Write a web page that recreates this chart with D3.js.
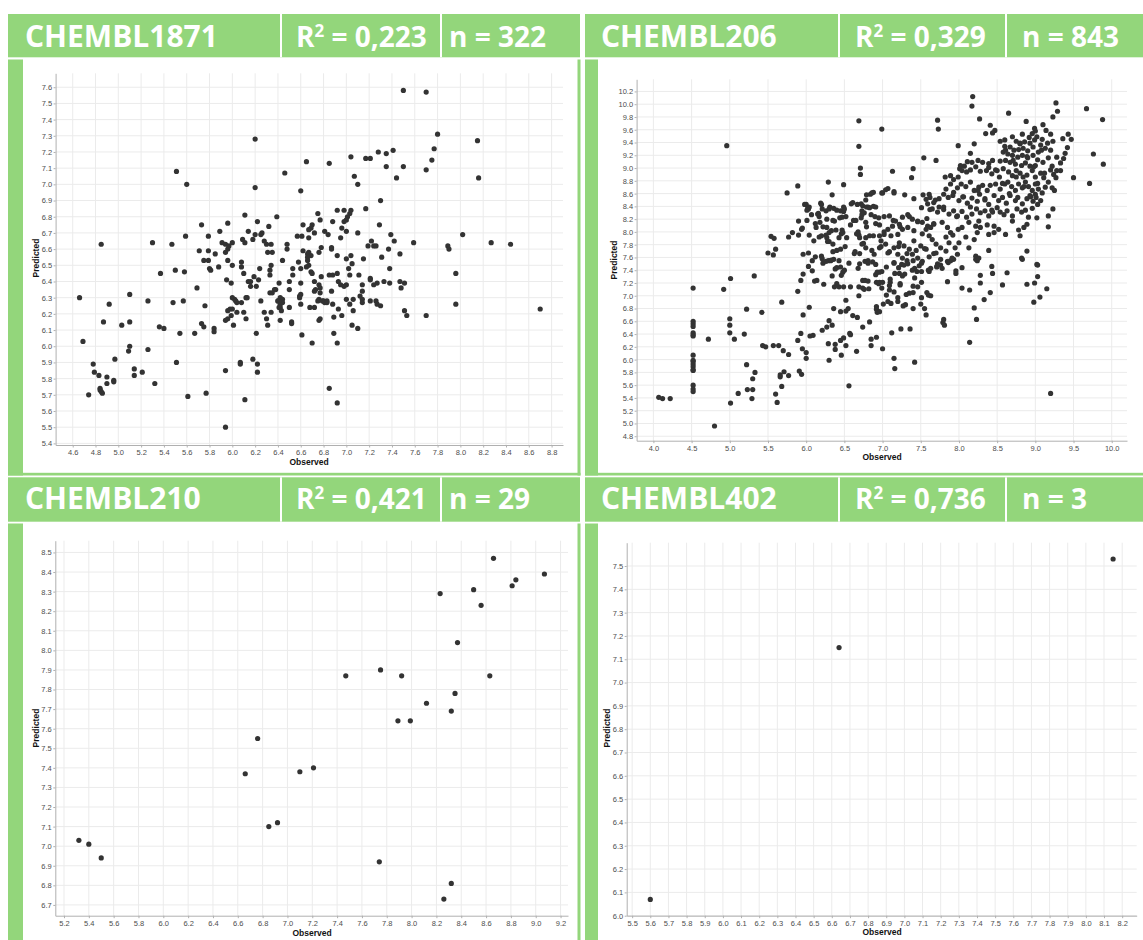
<!DOCTYPE html>
<html>
<head>
<meta charset="utf-8">
<script src="https://cdn.jsdelivr.net/npm/d3@7"></script>
<style>
  body { margin: 0; background: #fff; }
  svg { display: block; }
</style>
</head>
<body>
<svg id="chart"></svg>
<script>

// ---- data ----
const targets = ['CHEMBL1871', 'CHEMBL206', 'CHEMBL210', 'CHEMBL402']
const r2Values = ['0,223', '0,329', '0,421', '0,736']
const nValues = ['322', '843', '29', '3']

// [observed, predicted]
const pts1871 = [
  [7.50,7.58],[7.70,7.57],[7.80,7.31],[8.15,7.27],[6.20,7.28],[7.77,7.22],[7.41,7.21],[7.28,7.20],[7.35,7.19],[7.04,7.17],
  [7.17,7.16],[7.21,7.16],[7.75,7.15],[6.65,7.14],[6.85,7.13],[7.35,7.11],[7.50,7.11],[7.70,7.09],[5.51,7.08],[6.46,7.07],
  [7.07,7.05],[7.44,7.04],[8.16,7.04],[7.10,7.00],[5.60,7.00],[6.20,6.98],[6.60,6.96],[7.30,6.90],[7.17,6.85],[6.92,6.84],
  [6.98,6.84],[7.04,6.84],[7.03,6.82],[6.75,6.82],[6.11,6.81],[6.39,6.80],[7.01,6.80],[6.77,6.78],[7.00,6.78],[6.88,6.77],
  [6.98,6.77],[5.96,6.76],[6.22,6.77],[7.29,6.75],[5.73,6.75],[6.62,6.75],[6.70,6.75],[6.32,6.74],[6.69,6.73],[6.96,6.73],
  [6.67,6.72],[6.72,6.70],[5.89,6.71],[6.81,6.71],[7.00,6.71],[6.14,6.71],[6.26,6.70],[7.10,6.70],[7.39,6.69],[8.02,6.69],
  [6.20,6.69],[6.84,6.69],[6.25,6.69],[5.59,6.68],[5.79,6.68],[6.57,6.68],[6.61,6.68],[6.67,6.67],[6.18,6.66],[6.95,6.67],
  [6.09,6.66],[6.11,6.64],[6.28,6.65],[7.42,6.65],[7.22,6.65],[7.59,6.64],[8.27,6.64],[5.30,6.64],[5.47,6.63],[4.85,6.63],
  [8.44,6.63],[5.91,6.64],[6.00,6.64],[6.30,6.63],[6.34,6.63],[6.48,6.63],[5.94,6.63],[5.97,6.62],[7.19,6.62],[7.24,6.62],
  [7.26,6.62],[7.89,6.62],[7.90,6.60],[6.78,6.61],[6.87,6.61],[5.96,6.60],[6.48,6.60],[6.87,6.60],[7.37,6.60],[5.71,6.59],
  [5.79,6.59],[6.62,6.59],[5.94,6.58],[6.31,6.58],[6.67,6.58],[5.85,6.57],[6.35,6.58],[6.66,6.57],[6.76,6.58],[6.92,6.56],
  [7.04,6.56],[7.47,6.57],[6.69,6.56],[6.66,6.55],[7.31,6.55],[7.00,6.54],[7.15,6.54],[5.75,6.53],[5.79,6.53],[5.96,6.53],
  [6.66,6.53],[6.44,6.53],[6.58,6.52],[6.08,6.52],[7.05,6.51],[6.00,6.50],[6.34,6.50],[5.88,6.49],[6.08,6.49],[6.67,6.50],
  [6.65,6.49],[6.24,6.48],[5.80,6.48],[6.53,6.48],[6.60,6.48],[7.02,6.48],[7.38,6.48],[6.33,6.47],[5.50,6.47],[5.81,6.47],
  [6.69,6.46],[5.58,6.46],[6.33,6.44],[6.70,6.45],[5.37,6.45],[6.10,6.45],[7.96,6.45],[6.53,6.44],[6.85,6.44],[6.88,6.44],
  [7.03,6.44],[7.11,6.44],[6.19,6.43],[6.78,6.43],[6.92,6.45],[7.21,6.42],[5.95,6.41],[6.23,6.41],[6.14,6.40],[7.21,6.41],
  [6.16,6.40],[6.50,6.40],[7.33,6.40],[6.72,6.40],[6.41,6.39],[7.38,6.39],[7.47,6.40],[7.51,6.39],[7.27,6.39],[6.60,6.39],
  [6.93,6.40],[5.99,6.39],[7.14,6.38],[6.95,6.38],[7.00,6.38],[7.24,6.38],[6.76,6.38],[6.77,6.36],[6.98,6.37],[6.21,6.37],
  [6.16,6.37],[5.69,6.36],[7.48,6.36],[6.37,6.35],[6.50,6.35],[6.73,6.35],[6.38,6.35],[6.87,6.34],[7.14,6.34],[6.72,6.34],
  [6.33,6.33],[6.35,6.33],[6.77,6.33],[5.10,6.32],[4.66,6.30],[6.60,6.32],[6.59,6.31],[7.12,6.31],[6.00,6.30],[6.12,6.30],
  [6.42,6.30],[6.59,6.30],[6.02,6.29],[6.13,6.30],[6.40,6.28],[6.44,6.29],[6.76,6.29],[7.00,6.29],[7.06,6.29],[7.14,6.29],
  [6.03,6.28],[6.75,6.28],[6.80,6.28],[6.83,6.28],[7.21,6.28],[5.26,6.28],[5.57,6.28],[6.25,6.28],[6.79,6.28],[7.26,6.28],
  [6.81,6.27],[6.40,6.28],[6.44,6.27],[5.48,6.27],[6.04,6.27],[6.08,6.27],[6.83,6.27],[7.03,6.26],[7.14,6.27],[4.92,6.26],
  [6.88,6.26],[6.60,6.26],[7.27,6.26],[7.96,6.26],[6.42,6.26],[7.30,6.25],[5.76,6.25],[6.41,6.24],[6.50,6.24],[6.68,6.24],
  [6.72,6.24],[6.42,6.24],[5.98,6.23],[8.70,6.23],[6.00,6.23],[6.93,6.23],[7.51,6.22],[6.43,6.22],[6.10,6.21],[5.96,6.22],
  [6.28,6.21],[6.34,6.21],[7.06,6.22],[6.04,6.21],[6.96,6.19],[7.53,6.19],[7.70,6.19],[5.99,6.19],[5.96,6.17],[6.89,6.18],
  [6.30,6.17],[6.12,6.17],[6.77,6.17],[6.76,6.16],[5.94,6.16],[6.42,6.16],[4.87,6.15],[5.10,6.15],[6.52,6.15],[6.52,6.14],
  [5.73,6.14],[6.31,6.13],[7.05,6.13],[5.03,6.13],[6.01,6.13],[5.75,6.12],[5.36,6.12],[5.40,6.11],[7.10,6.11],[5.84,6.11],
  [5.84,6.09],[5.54,6.08],[5.67,6.08],[6.21,6.08],[6.89,6.08],[6.61,6.07],[6.70,6.02],[6.92,6.02],[4.69,6.03],[5.10,6.00],
  [5.09,5.97],[5.26,5.98],[4.97,5.92],[6.18,5.92],[5.51,5.90],[6.07,5.90],[6.07,5.89],[6.22,5.89],[4.78,5.89],[5.94,5.85],
  [5.14,5.86],[4.79,5.84],[5.21,5.84],[6.22,5.84],[4.83,5.82],[5.14,5.82],[4.90,5.81],[4.96,5.79],[4.96,5.78],[4.90,5.77],
  [5.32,5.77],[4.84,5.74],[6.85,5.74],[4.84,5.73],[4.85,5.72],[4.86,5.71],[4.74,5.70],[5.77,5.71],[5.61,5.69],[6.11,5.67],
  [6.92,5.65],[5.94,5.50]
]

const pts206 = [
  // low / left region
  [4.07,5.41],[4.12,5.39],[4.22,5.39],[4.80,4.96],[4.52,7.12],[4.52,6.60],[4.52,6.56],[4.52,6.52],[4.52,6.42],[4.52,6.39],
  [4.52,6.37],[4.52,6.07],[4.52,5.99],[4.52,5.97],[4.52,5.93],[4.52,5.89],[4.52,5.84],[4.52,5.83],[4.52,5.60],[4.52,5.54],
  [4.52,5.50],[4.72,6.32],[4.92,7.10],[5.01,7.27],[5.00,6.64],[5.00,6.54],[5.00,6.42],[5.06,6.32],[5.01,5.32],[5.11,5.47],
  [5.19,6.40],[5.22,6.79],[5.22,5.92],[5.32,7.31],[5.33,5.80],[5.30,5.70],[5.23,5.53],[5.30,5.53],[5.29,5.39],[5.42,6.74],
  [5.43,6.22],[5.47,6.20],[5.57,6.22],[5.64,6.22],[5.70,6.14],[5.77,6.08],[5.68,6.90],[5.60,5.46],[5.62,5.33],[5.68,5.58],
  [5.66,5.73],[5.66,5.76],[5.71,5.81],[5.77,5.75],[5.91,5.82],[5.94,5.77],[5.89,6.30],[5.93,6.41],[5.95,6.17],[6.00,6.11],
  [6.00,6.02],[5.96,6.70],[5.89,7.07],[5.93,7.24],[5.96,7.34],[6.03,7.46],[6.08,7.55],[6.04,6.82],[6.05,6.37],[6.09,6.38],
  [6.08,7.39],[6.11,7.23],[6.14,7.24],[6.23,7.18],[6.21,6.46],[6.27,6.51],[6.30,6.61],[6.34,6.54],[6.30,5.99],[6.29,6.25],
  [6.38,6.24],[6.38,6.16],[6.46,6.07],[6.45,6.30],[6.49,6.34],[6.52,6.22],[6.57,6.41],[6.58,6.39],[6.56,5.59],[6.66,6.13],
  [6.74,6.51],[6.85,6.32],[6.85,6.22],[6.92,6.35],[7.00,6.17],[6.36,6.80],[6.45,6.75],[6.52,6.76],[6.55,6.80],[6.52,6.93],
  [6.61,6.69],[6.67,6.66],[6.83,6.59],[6.69,7.00],[6.37,7.14],[6.43,7.14],[6.49,7.14],[6.34,7.31],[6.38,7.42],[6.40,7.44],
  [6.46,7.32],[6.48,7.37],[6.50,7.40],[6.29,7.55],[6.32,7.55],[6.36,7.57],[6.43,7.55],[6.70,7.50],[6.77,7.54],[6.81,7.55],
  [6.87,7.53],[6.91,7.49],[6.69,7.14],[6.74,7.12],[6.76,7.10],[6.82,7.11],[6.74,7.24],[6.81,7.23],[6.91,7.33],[6.96,7.37],
  [6.99,7.38],[6.92,7.21],[6.96,7.21],[7.00,7.21],[6.99,7.12],[6.92,6.83],[6.92,6.79],[6.93,6.74],[6.96,6.75],[7.01,6.87],
  // low / right region
  [9.20,5.47],[8.14,6.27],[7.15,6.02],[7.16,5.86],[7.42,5.96],[7.12,6.42],[7.24,6.48],[7.36,6.48],[7.80,6.63],[7.79,6.58],
  [7.81,6.54],[8.20,6.81],[8.23,6.63],[8.33,6.94],[8.41,7.05],[8.04,7.12],[8.14,7.09],[8.28,7.20],[8.28,7.32],[8.43,7.46],
  [8.44,7.35],[8.57,7.17],[8.63,7.36],[8.89,7.18],[8.99,7.20],[9.03,7.30],[9.03,7.48],[8.98,6.90],[9.06,6.98],[9.15,7.11],
  [8.82,7.59],[8.04,7.44],[7.96,7.39],[7.96,7.35],[7.85,7.22],[7.76,7.48],[7.72,7.50],[7.71,7.46],[7.63,7.43],[7.61,7.38],
  [7.58,7.05],[7.63,7.00],[7.55,6.80],[7.57,6.70],[7.50,6.87],[7.51,6.97],[7.51,7.21],[7.40,6.80],[7.40,7.05],[7.40,7.15],
  [7.42,7.28],[7.42,7.43],[7.48,7.47],[7.45,7.38],[7.30,6.86],[7.27,6.84],[7.20,6.97],[7.20,6.91],[7.31,7.02],[7.23,7.17],
  [7.22,7.35],[7.29,7.34],[7.26,7.31],[7.25,7.49],[7.32,7.55],[7.40,7.55],[7.15,7.51],[7.09,7.16],[7.15,7.06],[7.05,7.01],
  [7.07,6.91],[7.11,6.88],[7.21,7.44],[7.10,7.21],[7.10,7.26],[7.51,7.38],[7.78,7.43],[7.85,7.54],[7.89,7.55],[7.93,7.57],
  [8.22,7.57],[8.24,7.55],
  // middle band
  [6.40,7.19],[6.58,7.14],[6.77,7.24],[6.95,7.19],[7.09,7.09],[7.23,7.19],[7.35,7.04],[7.46,7.14],[7.60,7.01],
  [6.12,7.61],[6.22,7.51],[6.33,7.56],[6.45,7.45],[6.56,7.51],[6.68,7.43],[6.81,7.51],[6.93,7.37],[7.05,7.45],[7.16,7.35],
  [7.28,7.48],[7.39,7.40],[7.51,7.51],[7.60,7.40],[7.71,7.45],
  [6.17,7.92],[6.28,7.85],[6.40,7.71],[6.51,7.77],[6.63,7.66],[6.75,7.82],[6.86,7.71],[6.98,7.77],[7.09,7.69],[7.21,7.77],
  [7.32,7.66],[7.44,7.71],[7.55,7.74],[7.67,7.66],
  [6.12,8.13],[6.22,8.08],[6.35,8.18],[6.47,8.03],[6.58,8.11],[6.68,8.00],[6.79,8.08],[6.91,8.13],[7.02,8.00],[7.14,8.18],
  [7.23,8.08],[7.35,8.24],[7.46,8.16],[7.58,8.21],[7.67,8.13],
  [6.00,8.43],[6.04,8.39],[6.19,8.45],[6.16,8.29],[6.31,8.39],[6.40,8.34],[6.49,8.39],[6.61,8.46],[6.72,8.44],[6.81,8.39],
  [6.84,8.59],[6.88,8.62],[7.00,8.61],[7.07,8.68],[7.15,8.63],[7.29,8.58],[7.41,8.52],[7.53,8.58],[7.61,8.59],[7.69,8.50],
  [7.74,8.39],[7.62,8.35],
  // high / left region
  [4.96,9.35],[5.75,8.61],[5.89,8.72],[6.29,8.78],[6.49,8.74],[6.34,8.58],[6.69,9.74],[6.99,9.61],[6.69,9.34],[6.71,9.00],
  [6.71,8.90],[6.79,8.58],[6.86,8.61],[6.99,8.61],[6.78,8.50],[5.98,8.43],[6.02,8.39],[6.03,8.36],[6.01,8.34],[6.20,8.43],
  [6.21,8.36],[6.07,8.27],[6.15,8.28],[6.17,8.24],[6.26,8.33],[6.30,8.36],[6.36,8.37],[6.45,8.33],[6.49,8.32],[6.50,8.36],
  [6.52,8.24],[6.44,8.22],[6.47,8.23],[6.59,8.44],[6.67,8.43],[6.74,8.41],[6.79,8.39],[6.83,8.38],[6.88,8.40],[6.91,8.39],
  [6.73,8.33],[6.76,8.30],[6.73,8.27],[6.72,8.22],[6.85,8.27],[6.90,8.24],[6.95,8.22],[6.62,8.18],[6.65,8.18],[6.78,8.15],
  [6.96,8.11],[5.90,8.17],[5.94,8.04],[6.01,8.18],[6.13,8.07],[6.18,8.15],[6.27,8.07],[6.33,8.02],[6.39,8.03],[6.27,8.20],
  [6.37,8.17],[5.54,7.93],[5.58,7.90],[5.77,7.92],[5.82,7.99],[5.90,7.95],[5.95,8.06],[6.04,7.95],[6.10,7.86],[6.20,7.94],
  [6.26,7.95],[6.30,7.99],[6.27,7.91],[6.30,7.85],[6.35,7.81],[6.43,7.91],[6.46,7.97],[6.48,7.99],[6.53,7.91],[6.66,7.97],
  [6.69,7.95],[6.70,7.91],[6.78,7.91],[6.83,7.94],[6.88,7.94],[6.96,7.94],[6.64,7.69],[6.70,7.66],[6.78,7.75],[6.89,7.65],
  [6.96,7.75],[6.73,7.81],[5.50,7.67],[5.57,7.64],[5.60,7.73],[5.96,7.65],[6.03,7.67],[6.20,7.62],[6.21,7.58],[6.26,7.54],
  [6.35,7.69],[6.45,7.73],
  // high / right region
  [8.18,10.12],[8.17,9.97],[8.27,9.77],[8.65,9.86],[7.72,9.75],[7.73,9.61],[9.27,10.02],[9.29,9.89],[9.23,9.80],[9.67,9.93],
  [9.88,9.76],[9.76,9.22],[9.89,9.06],[9.71,8.76],[9.50,8.85],[8.88,9.73],[8.41,9.67],[8.47,9.59],[8.44,9.55],[8.35,9.54],
  [7.99,9.35],[8.20,9.38],[8.15,9.23],[7.54,9.16],[7.70,9.12],[7.13,8.95],[7.40,8.99],[7.38,8.85],[7.04,8.66],[7.15,8.61],
  [9.10,9.68],[8.99,9.62],[9.00,9.58],[9.14,9.59],[9.20,9.53],[8.96,9.54],[8.83,9.53],[8.70,9.49],[9.43,9.53],[9.36,9.46],
  [9.47,9.45],[9.02,9.49],[9.09,9.45],[9.23,9.42],[8.92,9.48],[8.60,9.44],[8.54,9.42],
  [8.75,9.42],[8.80,9.38],[8.86,9.41],[8.93,9.39],[8.99,9.44],[9.07,9.36],[9.16,9.39],[9.13,9.31],[9.20,9.28],[9.42,9.32],
  [9.39,9.23],[8.60,9.34],[8.67,9.33],[8.72,9.28],[8.78,9.29],[8.84,9.31],[8.90,9.27],[8.97,9.33],[9.04,9.25],[8.58,9.25],
  [8.64,9.22],
  [8.70,9.20],[8.77,9.17],[8.83,9.20],[8.90,9.16],[8.97,9.20],[9.03,9.13],[9.10,9.09],[9.17,9.16],[9.28,9.17],[9.33,9.08],
  [9.37,9.15],[8.61,9.12],[8.67,9.09],[8.54,9.11],[8.44,9.12],[8.39,9.07],[8.31,9.09],[8.25,9.12],[8.17,9.09],[8.11,9.10],
  [8.07,9.03],[8.02,9.04],[8.74,9.06],[8.82,9.04],[8.87,9.08],[8.93,9.03],[9.00,9.04],[9.22,9.03],
  [8.01,8.99],[8.04,8.96],[8.10,8.94],[8.15,8.97],[8.22,9.02],[8.28,8.95],[8.36,8.96],[8.39,9.01],[8.43,8.91],[8.50,8.96],
  [8.53,8.86],[8.58,8.99],[8.65,8.94],[8.70,8.88],[8.75,8.96],[8.80,8.92],[8.84,8.86],[8.89,8.89],[8.96,8.96],[9.00,8.86],
  [9.07,8.92],[9.11,8.85],[9.20,8.97],[9.24,8.90],[9.28,8.96],[9.33,8.96],[9.27,8.85],[7.82,8.86],[7.89,8.88],[7.93,8.82],
  [7.99,8.86],
  [8.03,8.75],[8.09,8.71],[8.15,8.78],[8.20,8.65],[8.26,8.70],[8.31,8.73],[8.37,8.65],[8.41,8.73],[8.48,8.75],[8.54,8.67],
  [8.60,8.75],[8.64,8.78],[8.69,8.71],[8.74,8.65],[8.78,8.75],[8.83,8.69],[8.87,8.78],[8.91,8.71],[8.96,8.65],[9.00,8.75],
  [9.04,8.67],[9.09,8.61],[9.13,8.70],[9.17,8.78],[9.22,8.69],[9.25,8.65],[7.83,8.67],[7.89,8.75],[7.93,8.62],[7.98,8.69],
  [7.80,8.59],
  [7.86,8.54],[7.92,8.57],[8.00,8.49],[8.05,8.55],[8.11,8.45],[8.17,8.53],[8.24,8.48],[8.27,8.59],[8.34,8.52],[8.39,8.43],
  [8.46,8.57],[8.52,8.49],[8.57,8.54],[8.62,8.45],[8.67,8.57],[8.74,8.49],[8.77,8.54],[8.83,8.44],[8.89,8.52],[8.93,8.57],
  [8.97,8.48],[9.01,8.54],[9.03,8.43],[9.07,8.49],[9.00,8.59],[7.62,8.54],[7.59,8.44],[7.67,8.46],[7.74,8.52],[7.80,8.39],
  [7.51,8.38],[7.57,8.51],
  [7.65,8.36],[7.72,8.31],[7.80,8.35],[7.87,8.28],[7.93,8.33],[7.98,8.25],[8.04,8.32],[8.10,8.23],[8.17,8.28],[8.23,8.36],
  [8.28,8.30],[8.34,8.33],[8.39,8.25],[8.44,8.31],[8.50,8.38],[8.54,8.31],[8.59,8.27],[8.63,8.33],[8.70,8.25],[8.76,8.36],
  [8.82,8.31],[8.87,8.34],[8.91,8.23],[8.96,8.37],[9.02,8.22],[9.17,8.25],[9.23,8.36],[7.02,8.24],[7.09,8.25],[7.17,8.17],
  [7.26,8.23],[7.33,8.27],[7.39,8.20],[7.46,8.17],
  [7.52,8.15],[7.59,8.09],[7.57,8.04],[7.63,8.07],[7.67,8.12],[7.52,7.97],[7.61,7.94],[7.41,8.02],[7.33,8.07],[7.26,8.04],
  [7.22,8.12],[7.13,8.09],[7.07,8.04],[7.02,7.96],[7.11,7.94],[7.20,7.96],[7.78,8.15],[7.85,8.07],[7.89,7.99],[7.99,8.04],
  [8.04,8.07],[8.13,8.15],[8.22,8.09],[8.26,8.17],[8.24,7.99],[8.28,8.07],[8.37,8.11],[8.46,8.09],[8.52,8.04],[8.61,7.96],
  [8.70,8.17],[8.78,8.03],[8.85,8.07],[8.89,8.12],[8.80,7.94],[7.83,7.92],[7.92,7.95],[8.09,7.92],[8.20,7.88],[8.39,7.96],
  [8.46,7.99],[9.17,8.08],
  [6.98,7.86],[7.04,7.81],[7.15,7.75],[7.22,7.83],[7.28,7.78],[7.35,7.73],[7.41,7.86],[7.50,7.78],[7.57,7.73],[7.65,7.88],
  [7.70,7.81],[7.76,7.75],[7.83,7.70],[7.87,7.83],[7.95,7.75],[8.00,7.83],[7.98,7.65],[8.13,7.75],[8.22,7.62],[8.26,7.59],
  [8.39,7.71],[8.89,7.70],[8.83,7.57],[9.02,7.49],[7.07,7.67],[7.20,7.65],[7.26,7.59],[7.39,7.65],[7.46,7.59],[7.52,7.54],
  [7.61,7.61],[7.70,7.67],[7.76,7.57],[7.86,7.52],[7.91,7.59],[7.15,7.52],[7.33,7.50],
  [8.61,9.28],[8.71,9.12],[8.80,9.39],[8.89,9.18],[8.98,9.02],[9.08,9.28],[8.48,8.97],[8.57,8.76],[8.66,8.60],[8.75,8.86],
  [8.85,8.71],[8.94,8.55],[9.03,8.76],[9.12,8.92],[8.25,8.65],[8.34,8.50],[8.43,8.34],[8.15,8.39],[8.06,8.55],[7.97,8.24]
]

const pts210 = [
  [5.32,7.03],[5.40,7.01],[5.50,6.94],[6.66,7.37],[6.76,7.55],[6.85,7.10],[6.92,7.12],[7.10,7.38],[7.21,7.40],[7.47,7.87],
  [7.75,7.90],[7.74,6.92],[7.92,7.87],[7.89,7.64],[7.99,7.64],[8.12,7.73],[8.23,8.29],[8.32,7.69],[8.35,7.78],[8.37,8.04],
  [8.32,6.81],[8.26,6.73],[8.50,8.31],[8.56,8.23],[8.63,7.87],[8.66,8.47],[8.81,8.33],[8.84,8.36],[9.07,8.39]
]

const pts402 = [[5.60,6.07],[6.64,7.15],[8.15,7.53]]

const ticks1871 = { x: d3.range(46, 89, 2).map(v => v / 10), y: d3.range(54, 77).map(v => v / 10) }
const ticks206 = { x: d3.range(40, 101, 5).map(v => v / 10), y: d3.range(48, 103, 2).map(v => v / 10) }
const ticks210 = { x: d3.range(52, 93, 2).map(v => v / 10), y: d3.range(67, 86).map(v => v / 10) }
const ticks402 = { x: d3.range(55, 83).map(v => v / 10), y: d3.range(60, 76).map(v => v / 10) }

// ---- layout ----
const W = 1143, H = 940
const green = '#93d67b'
const svg = d3.select('#chart').attr('width', W).attr('height', H)

const panels = [
  { pts: pts1871, ticks: ticks1871, xDom: [4.45, 8.9], xR: [55.6, 563], yDom: [5.39, 7.686], yR: [445, 73.3],
    obs: [309, 463], pred: [36.5, 258] },
  { pts: pts206, ticks: ticks206, xDom: [3.78, 10.2], xR: [636.6, 1127], yDom: [4.73, 10.39], yR: [440.7, 79.3],
    obs: [882, 458], pred: [615, 260] },
  { pts: pts210, ticks: ticks210, xDom: [5.13, 9.26], xR: [55.3, 568], yDom: [6.645, 8.56], yR: [915.7, 540.7],
    obs: [312, 934], pred: [36.5, 728] },
  { pts: pts402, ticks: ticks402, xDom: [5.47, 8.28], xR: [626.7, 1136.7], yDom: [6.0, 7.6], yR: [915.7, 542.7],
    obs: [882, 933], pred: [608, 728] }
]

// header boxes
const headers = [
  { x0: 8, x1: 580, y0: 14, y1: 57.3, div: [281, 441], tx: [25, 296, 449], base: 46.5 },
  { x0: 585, x1: 1143, y0: 14, y1: 57.3, div: [839, 1006], tx: [601, 855, 1022], base: 46.5 },
  { x0: 8, x1: 580, y0: 477.3, y1: 521.7, div: [281, 441], tx: [25, 296, 449], base: 509 },
  { x0: 585, x1: 1143, y0: 477.3, y1: 521.7, div: [839, 1006], tx: [601, 855, 1022], base: 509 }
]

// green frame pieces round the plots
const frames = [
  [8, 59.5, 15, 416], [577.5, 59.5, 3, 416], [8, 472.8, 572.5, 2.7],
  [585, 59.5, 13, 416], [585, 472.8, 558, 2.7],
  [8, 523.5, 15, 417], [577.5, 523.5, 3, 417],
  [585, 523.5, 13, 417]
]

svg.selectAll('rect.frame').data(frames).join('rect')
  .attr('class', 'frame')
  .attr('x', d => d[0]).attr('y', d => d[1])
  .attr('width', d => d[2]).attr('height', d => d[3])
  .attr('fill', green)

headers.forEach((h, i) => {
  let g = svg.append('g')
  g.append('rect')
    .attr('x', h.x0).attr('y', h.y0)
    .attr('width', h.x1 - h.x0).attr('height', h.y1 - h.y0)
    .attr('fill', green)
  for (let dx of h.div) {
    g.append('rect').attr('x', dx - 1).attr('y', h.y0).attr('width', 2).attr('height', h.y1 - h.y0).attr('fill', '#fff')
  }
  let txt = g.append('g')
    .attr('font-family', '"Open Sans", sans-serif')
    .attr('font-weight', 'bold')
    .attr('fill', '#fff')
  txt.append('text').attr('x', h.tx[0]).attr('y', h.base).attr('font-size', '30px').text(targets[i])
  let r = txt.append('text').attr('x', h.tx[1]).attr('y', h.base).attr('font-size', '28px')
  r.append('tspan').text('R')
  r.append('tspan').attr('dy', -10).attr('font-size', '17px').text('2')
  r.append('tspan').attr('dy', 10).text(' = ' + r2Values[i])
  txt.append('text').attr('x', h.tx[2]).attr('y', h.base).attr('font-size', '28px').text('n = ' + nValues[i])
})

function drawPanel(p) {
  let x = d3.scaleLinear().domain(p.xDom).range(p.xR)
  let y = d3.scaleLinear().domain(p.yDom).range(p.yR)
  let g = svg.append('g')

  // grid
  g.selectAll('line.vg').data(p.ticks.x).join('line')
    .attr('x1', d => x(d)).attr('x2', d => x(d))
    .attr('y1', p.yR[1]).attr('y2', p.yR[0])
    .attr('stroke', '#ebebeb').attr('stroke-width', 1)
  g.selectAll('line.hg').data(p.ticks.y).join('line')
    .attr('y1', d => y(d)).attr('y2', d => y(d))
    .attr('x1', p.xR[0]).attr('x2', p.xR[1])
    .attr('stroke', '#ebebeb').attr('stroke-width', 1)

  // axes
  let fmt = d3.format('.1f')
  let xa = g.append('g').attr('transform', `translate(0,${p.yR[0]})`)
    .call(d3.axisBottom(x).tickValues(p.ticks.x).tickFormat(fmt).tickSize(2.5).tickSizeOuter(0).tickPadding(2))
  let ya = g.append('g').attr('transform', `translate(${p.xR[0]},0)`)
    .call(d3.axisLeft(y).tickValues(p.ticks.y).tickFormat(fmt).tickSize(2).tickSizeOuter(0).tickPadding(1.5))
  for (let a of [xa, ya]) {
    a.select('.domain').attr('stroke', '#b0b0b0')
    a.selectAll('.tick line').attr('stroke', '#b0b0b0')
    a.selectAll('.tick text')
      .attr('font-family', '"Liberation Sans", Arial, sans-serif')
      .attr('font-size', '7.5px')
      .attr('fill', '#4d4d4d')
  }

  // titles
  g.append('text')
    .attr('x', p.obs[0]).attr('y', p.obs[1])
    .attr('text-anchor', 'middle').attr('dominant-baseline', 'middle')
    .attr('font-family', '"Liberation Sans", Arial, sans-serif')
    .attr('font-size', '8.5px').attr('font-weight', 'bold').attr('fill', '#111')
    .text('Observed')
  g.append('text')
    .attr('transform', `translate(${p.pred[0]},${p.pred[1]}) rotate(-90)`)
    .attr('text-anchor', 'middle').attr('dominant-baseline', 'middle')
    .attr('font-family', '"Liberation Sans", Arial, sans-serif')
    .attr('font-size', '8.5px').attr('font-weight', 'bold').attr('fill', '#111')
    .text('Predicted')

  // points
  g.selectAll('circle').data(p.pts).join('circle')
    .attr('cx', d => x(d[0])).attr('cy', d => y(d[1]))
    .attr('r', 2.6)
    .attr('fill', '#333')
}

panels.forEach(drawPanel)

</script>
</body>
</html>
